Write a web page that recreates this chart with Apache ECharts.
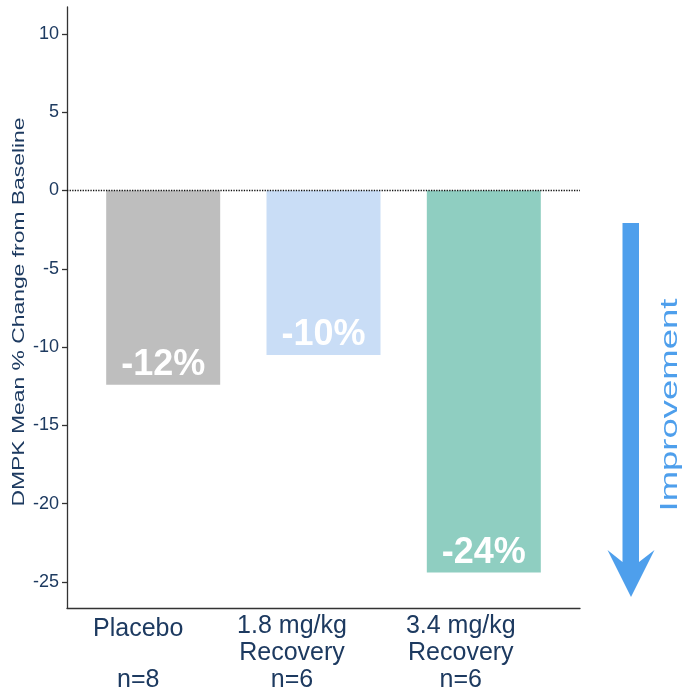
<!DOCTYPE html>
<html>
<head>
<meta charset="utf-8">
<script src="https://cdn.jsdelivr.net/npm/echarts@6/dist/echarts.min.js"></script>
<style>
  html, body { margin: 0; padding: 0; background: #ffffff; }
  #chart { width: 684px; height: 692px; }
</style>
</head>
<body>
<div id="chart"></div>
<script>
// Treatment groups and DMPK mean % change from baseline
const groupNames = ['Placebo', '1.8 mg/kg\nRecovery', '3.4 mg/kg\nRecovery'];
const groupSizes = ['n=8', 'n=6', 'n=6'];
const changeValues = [-12.4, -10.5, -24.4];
const barColors = ['#bebebe', '#c9ddf6', '#8fcec1'];
const yTicks = [-25, -20, -15, -10, -5, 0, 5, 10];

const navy = '#1d3a60';
const gridLeft = 67, gridWidth = 513;
const xMin = 0.4, xMax = 3.6;
const pxPerUnit = gridWidth / (xMax - xMin);
// Category labels sit a little to the left of their bars (pixels)
const labelShiftPx = [-25, -31.5, -23];
const labelPositions = labelShiftPx.map((d, i) => i + 1 + d / pxPerUnit);

const chart = echarts.init(document.getElementById('chart'), null, { renderer: 'canvas' });

const barData = changeValues.map((v, i) => ({
  value: [i + 1, v],
  itemStyle: { color: barColors[i] }
}));

function categoryLabel(v) {
  const i = Math.round(v) - 1;
  if (i < 0 || i >= groupNames.length) return '';
  const lines = groupNames[i].split('\n');
  if (lines.length === 1) {
    return '{top|' + lines[0] + '}\n{gap| }\n{t|' + groupSizes[i] + '}';
  }
  return lines.map(t => '{t|' + t + '}').join('\n') + '\n{t|' + groupSizes[i] + '}';
}

const textBase = { color: navy, fontFamily: 'Liberation Sans', fontSize: 25, lineHeight: 27 };

const option = {
  animation: false,
  backgroundColor: '#ffffff',
  grid: { left: gridLeft, top: 7, width: gridWidth, height: 601, containLabel: false, outerBoundsMode: 'none' },
  xAxis: {
    type: 'value',
    min: xMin,
    max: xMax,
    splitLine: { show: false },
    axisLine: { show: true, onZero: false, lineStyle: { color: '#333333', width: 1.3 } },
    axisTick: { show: false },
    axisLabel: {
      customValues: labelPositions,
      formatter: categoryLabel,
      showMinLabel: true,
      showMaxLabel: true,
      hideOverlap: false,
      color: navy,
      fontFamily: 'Liberation Sans',
      fontSize: 25,
      lineHeight: 27,
      margin: 5,
      rich: {
        top: Object.assign({}, textBase, { lineHeight: 33 }),
        gap: Object.assign({}, textBase, { lineHeight: 21 }),
        t: textBase
      }
    }
  },
  yAxis: {
    type: 'value',
    min: -26.66,
    max: 11.72,
    splitLine: { show: false },
    axisLine: { show: true, lineStyle: { color: '#333333', width: 1.3 } },
    axisTick: { show: true, customValues: yTicks, length: 5, lineStyle: { color: '#333333', width: 1.3 } },
    axisLabel: {
      customValues: yTicks,
      color: navy,
      fontFamily: 'Liberation Sans',
      fontSize: 18,
      margin: 8
    }
  },
  series: [{
    type: 'bar',
    data: barData,
    barWidth: 114,
    label: {
      show: true,
      position: 'insideBottom',
      distance: 2,
      formatter: p => Math.round(p.value[1]) + '%',
      color: '#ffffff',
      fontFamily: 'Liberation Sans',
      fontWeight: 'bold',
      fontSize: 36
    },
    markLine: {
      silent: true,
      symbol: 'none',
      label: { show: false },
      lineStyle: { type: 'dotted', color: '#111111', width: 1.3 },
      data: [{ yAxis: 0 }]
    }
  }],
  graphic: [
    {
      type: 'text',
      x: 20, y: 312,
      rotation: Math.PI / 2,
      scaleX: 1.43,
      style: {
        text: 'DMPK Mean % Change from Baseline',
        fill: navy,
        font: '16px "Liberation Sans"',
        align: 'center',
        verticalAlign: 'middle'
      }
    },
    {
      type: 'polygon',
      shape: {
        points: [
          [622.5, 223], [639, 223], [639, 562], [654.5, 550],
          [631, 597], [607.5, 550], [622.5, 562]
        ]
      },
      style: { fill: '#4e9fec' }
    },
    {
      type: 'text',
      x: 670, y: 405,
      rotation: Math.PI / 2,
      scaleX: 1.52,
      style: {
        text: 'Improvement',
        fill: '#4e9fec',
        font: '24px "Liberation Sans"',
        align: 'center',
        verticalAlign: 'middle'
      }
    }
  ]
};

chart.setOption(option);
</script>
</body>
</html>
